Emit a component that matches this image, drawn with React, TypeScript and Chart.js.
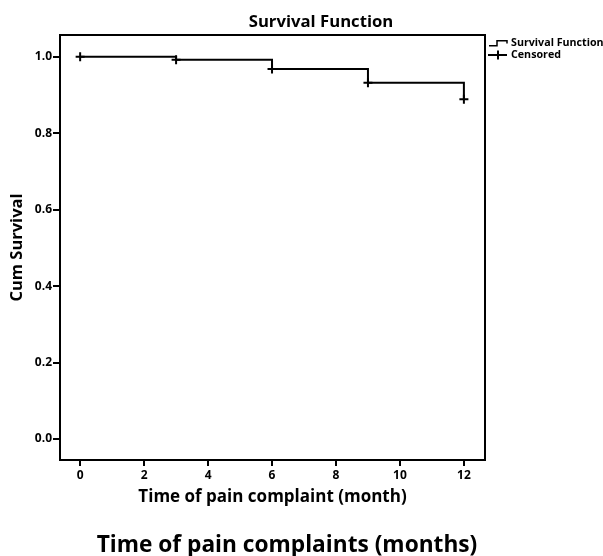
import React, { useEffect, useRef } from "react";
import { Chart, registerables } from "chart.js";

Chart.register(...registerables);

// ---- data ----
const times = [0, 3, 6, 9, 12];
const survival = [1.0, 0.992, 0.968, 0.932, 0.889];
const censoredTimes = [0, 3, 6, 9, 12];
const censoredValues = [1.0, 0.992, 0.968, 0.932, 0.889];
const xTicks = [0, 2, 4, 6, 8, 10, 12];
const yTicks = [0.0, 0.2, 0.4, 0.6, 0.8, 1.0];
const chartTitle = "Survival Function";
const xTitle = "Time of pain complaint (month)";
const yTitle = "Cum Survival";
const caption = "Time of pain complaints (months)";
const legendLabels = ["Survival Function", "Censored"];

const FONT = "'Open Sans', 'DejaVu Sans', sans-serif";

const decorPlugin = {
  id: "decor",
  afterDraw(chart: any) {
    const { ctx, chartArea: a } = chart;
    ctx.save();
    ctx.strokeStyle = "#000";
    ctx.lineWidth = 2;
    ctx.strokeRect(a.left, a.top, a.right - a.left, a.bottom - a.top);

    ctx.fillStyle = "#000";
    ctx.textAlign = "center";
    ctx.textBaseline = "middle";
    ctx.font = `bold 16.7px ${FONT}`;
    ctx.fillText(chartTitle, 321, 22.5);

    ctx.font = `bold 22.7px ${FONT}`;
    ctx.fillText(caption, 287, 546);

    // legend
    const lx = a.right + 4;
    ctx.lineWidth = 1.5;
    ctx.beginPath();
    ctx.moveTo(lx, 45.7);
    ctx.lineTo(lx + 8, 45.7);
    ctx.lineTo(lx + 8, 40.7);
    ctx.lineTo(lx + 18, 40.7);
    ctx.lineTo(lx + 18, 43.5);
    ctx.stroke();

    ctx.lineWidth = 2;
    ctx.beginPath();
    ctx.moveTo(lx - 1, 55);
    ctx.lineTo(lx + 18, 55);
    ctx.moveTo(lx + 9, 50.5);
    ctx.lineTo(lx + 9, 59.5);
    ctx.stroke();

    ctx.textAlign = "left";
    ctx.font = `bold 10.7px ${FONT}`;
    ctx.fillText(legendLabels[0], lx + 22, 42.7);
    ctx.fillText(legendLabels[1], lx + 22, 55);
    ctx.restore();
  },
};

export default function App() {
  const ref = useRef<HTMLCanvasElement | null>(null);

  useEffect(() => {
    if (!ref.current) return;
    const chart = new Chart(ref.current, {
      type: "line",
      data: {
        datasets: [
          {
            label: legendLabels[0],
            data: times.map((t, i) => ({ x: t, y: survival[i] })),
            borderColor: "#000",
            borderWidth: 2,
            pointRadius: 0,
            stepped: "before",
            fill: false,
          },
          {
            label: legendLabels[1],
            data: censoredTimes.map((t, i) => ({ x: t, y: censoredValues[i] })),
            showLine: false,
            pointStyle: "cross",
            pointRadius: 4.5,
            pointBorderWidth: 2,
            borderColor: "#000",
            backgroundColor: "#000",
          },
        ],
      },
      options: {
        responsive: false,
        animation: false,
        layout: { padding: { left: 0, top: 35, right: 118, bottom: 0 } },
        plugins: {
          legend: { display: false },
          title: { display: false },
          tooltip: { enabled: false },
        },
        scales: {
          x: {
            type: "linear",
            min: -0.63,
            max: 12.66,
            afterBuildTicks: (s: any) => {
              s.ticks = xTicks.map((v) => ({ value: v }));
            },
            afterFit: (s: any) => {
              s.height = 96;
            },
            ticks: {
              autoSkip: false,
              maxRotation: 0,
              padding: 2,
              color: "#000",
              font: { family: FONT, size: 12, weight: "bold" },
              callback: (v: any) => String(v),
            },
            grid: {
              display: true,
              drawOnChartArea: false,
              drawTicks: true,
              tickLength: 6,
              color: "#000",
              lineWidth: 2,
            },
            border: { display: false },
            title: {
              display: true,
              text: xTitle,
              color: "#000",
              font: { family: FONT, size: 17, weight: "bold" },
              padding: { top: 0, bottom: 49 },
            },
          },
          y: {
            type: "linear",
            min: -0.055,
            max: 1.057,
            afterBuildTicks: (s: any) => {
              s.ticks = yTicks.map((v) => ({ value: v }));
            },
            afterFit: (s: any) => {
              s.width = 60;
            },
            ticks: {
              autoSkip: false,
              padding: 1,
              color: "#000",
              font: { family: FONT, size: 12, weight: "bold" },
              callback: (v: any) => Number(v).toFixed(1),
            },
            grid: {
              display: true,
              drawOnChartArea: false,
              drawTicks: true,
              tickLength: 7,
              color: "#000",
              lineWidth: 2,
            },
            border: { display: false },
            title: {
              display: true,
              text: yTitle,
              color: "#000",
              font: { family: FONT, size: 16.5, weight: "bold" },
              padding: { top: 7.6, bottom: 0 },
            },
          },
        },
      },
      plugins: [decorPlugin],
    });
    return () => chart.destroy();
  }, []);

  return (
    <div style={{ position: "fixed", left: 0, top: 0, width: 603, height: 556, background: "#fff" }}>
      <canvas ref={ref} width={603} height={556} style={{ display: "block" }} />
    </div>
  );
}
